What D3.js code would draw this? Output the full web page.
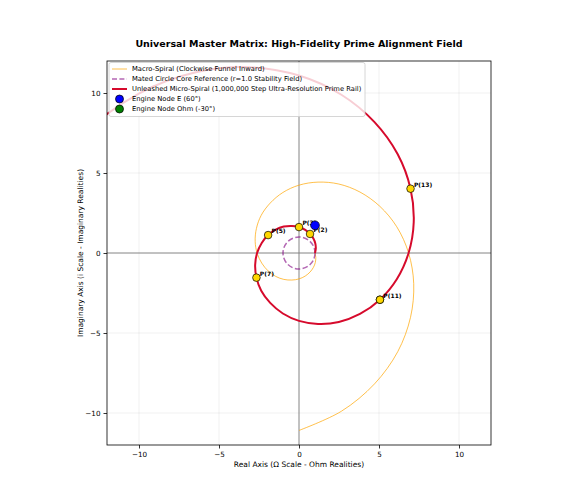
<!DOCTYPE html>
<html>
<head>
<meta charset="utf-8">
<script src="https://cdn.jsdelivr.net/npm/d3@7"></script>
<style>
  body { margin: 0; background: #fff; }
  text { font-family: 'DejaVu Sans', sans-serif; }
</style>
</head>
<body>
<svg id="chart" width="584" height="500"></svg>
<script>
// Macro-spiral (orange), points every 15 degrees
const macroX = [0, 2.65, 4.72, 6.17, 6.97, 7.17, 6.85, 6.11, 5.05, 3.81, 2.49, 1.19, 0, -1.01, -1.80, -2.36,
  -2.66, -2.74, -2.62, -2.33, -1.93, -1.46, -0.95, -0.45, 0, 0.39, 0.69, 0.90, 1.02, 1.05, 1.0]
const macroY = [-11.09, -9.89, -8.18, -6.17, -4.02, -1.92, 0, 1.64, 2.92, 3.81, 4.31, 4.43, 4.24, 3.78, 3.12, 2.36,
  1.54, 0.73, 0, -0.63, -1.12, -1.46, -1.65, -1.69, -1.62, -1.44, -1.19, -0.90, -0.59, -0.28, 0]

// Micro-spiral (red), points every 15 degrees
const microX = [1.0, 1.05, 1.02, 0.90, 0.69, 0.39, 0, -0.45, -0.95, -1.46, -1.93, -2.33, -2.62, -2.74, -2.66, -2.36,
  -1.80, -1.01, 0, 1.19, 2.49, 3.81, 5.06, 6.11, 6.85, 7.17, 6.97, 6.17, 4.72, 2.65, 0, -3.11, -6.51, -9.98, -13.23, -16.0]
const microY = [0, 0.28, 0.59, 0.90, 1.19, 1.44, 1.62, 1.69, 1.65, 1.46, 1.12, 0.63, 0, -0.73, -1.54, -2.36,
  -3.12, -3.78, -4.24, -4.43, -4.31, -3.81, -2.92, -1.64, 0, 1.92, 4.02, 6.17, 8.18, 9.89, 11.09, 11.61, 11.28, 9.98, 7.64, 4.29]

// Stability circle
const coreRadius = 1.0

// Prime markers on the micro-spiral
const primes = [2, 3, 5, 7, 11, 13]
const primeX = [0.69, 0, -1.93, -2.66, 5.06, 6.97]
const primeY = [1.19, 1.62, 1.12, -1.54, -2.92, 4.02]

// Engine nodes
const nodeNames = ['Engine Node E (60°)', 'Engine Node Ohm (-30°)']
const nodeX = [1.0, 5.06]
const nodeY = [1.73, -2.92]
const nodeColors = ['#0000ff', '#008000']

const ticks = [-10, -5, 0, 5, 10]

const svg = d3.select('#chart')
const width = 584
const height = 500
const margin = { top: 61, right: 93, bottom: 55, left: 107 }
const innerWidth = width - margin.left - margin.right
const innerHeight = height - margin.top - margin.bottom

// ------------------
// Title
// ------------------
svg.append('text')
  .attr('x', margin.left + innerWidth / 2)
  .attr('y', 47)
  .attr('text-anchor', 'middle')
  .attr('font-weight', 'bold')
  .attr('font-size', 9.5)
  .text('Universal Master Matrix: High-Fidelity Prime Alignment Field')

const g = svg.append('g')
  .attr('transform', `translate(${margin.left},${margin.top})`)

// ------------------
// Scales
// ------------------
const x = d3.scaleLinear().domain([-12, 12]).range([0, innerWidth])
const y = d3.scaleLinear().domain([-12, 12]).range([innerHeight, 0])

g.append('clipPath')
  .attr('id', 'plot-clip')
  .append('rect')
  .attr('width', innerWidth)
  .attr('height', innerHeight)

// ------------------
// Grid + zero axes
// ------------------
g.append('g')
  .selectAll('line')
  .data(ticks)
  .enter()
  .append('line')
  .attr('x1', d => x(d))
  .attr('x2', d => x(d))
  .attr('y1', 0)
  .attr('y2', innerHeight)
  .attr('stroke', '#b0b0b0')
  .attr('stroke-opacity', 0.3)
  .attr('stroke-width', 0.6)

g.append('g')
  .selectAll('line')
  .data(ticks)
  .enter()
  .append('line')
  .attr('x1', 0)
  .attr('x2', innerWidth)
  .attr('y1', d => y(d))
  .attr('y2', d => y(d))
  .attr('stroke', '#b0b0b0')
  .attr('stroke-opacity', 0.3)
  .attr('stroke-width', 0.6)

g.append('line')
  .attr('x1', 0).attr('x2', innerWidth)
  .attr('y1', y(0)).attr('y2', y(0))
  .attr('stroke', '#808080')
  .attr('stroke-width', 0.9)

g.append('line')
  .attr('x1', x(0)).attr('x2', x(0))
  .attr('y1', 0).attr('y2', innerHeight)
  .attr('stroke', '#808080')
  .attr('stroke-width', 0.9)

// ------------------
// Curves
// ------------------
const plot = g.append('g').attr('clip-path', 'url(#plot-clip)')

const line = d3.line()
  .x(d => x(d[0]))
  .y(d => y(d[1]))
  .curve(d3.curveCatmullRom.alpha(0.5))

plot.append('path')
  .datum(d3.zip(macroX, macroY))
  .attr('fill', 'none')
  .attr('stroke', '#ffa500')
  .attr('stroke-opacity', 0.7)
  .attr('stroke-width', 1)
  .attr('d', line)

plot.append('circle')
  .attr('cx', x(0))
  .attr('cy', y(0))
  .attr('r', x(coreRadius) - x(0))
  .attr('fill', 'none')
  .attr('stroke', '#800080')
  .attr('stroke-opacity', 0.6)
  .attr('stroke-width', 1.5)
  .attr('stroke-dasharray', '5.5,2.4')

plot.append('path')
  .datum(d3.zip(microX, microY))
  .attr('fill', 'none')
  .attr('stroke', '#d60a2c')
  .attr('stroke-width', 2)
  .attr('d', line)

// Hidden node sits under P(11), so draw it first
g.append('circle')
  .attr('cx', x(nodeX[1]))
  .attr('cy', y(nodeY[1]))
  .attr('r', 3.8)
  .attr('fill', nodeColors[1])
  .attr('stroke', '#000')
  .attr('stroke-width', 0.7)

// ------------------
// Prime markers
// ------------------
const primeData = primes.map((p, i) => ({ p, x: primeX[i], y: primeY[i] }))

g.selectAll('.prime-label')
  .data(primeData)
  .enter()
  .append('text')
  .attr('class', 'prime-label')
  .attr('x', d => x(d.x) + 3.4)
  .attr('y', d => y(d.y) - 2)
  .attr('font-size', 6)
  .attr('font-weight', 'bold')
  .text(d => `P(${d.p})`)

g.selectAll('.prime-dot')
  .data(primeData)
  .enter()
  .append('circle')
  .attr('class', 'prime-dot')
  .attr('cx', d => x(d.x))
  .attr('cy', d => y(d.y))
  .attr('r', 3.8)
  .attr('fill', '#ffd700')
  .attr('stroke', '#000')
  .attr('stroke-width', 0.7)

g.append('circle')
  .attr('cx', x(nodeX[0]))
  .attr('cy', y(nodeY[0]))
  .attr('r', 4.4)
  .attr('fill', nodeColors[0])
  .attr('stroke', '#000')
  .attr('stroke-width', 0.7)

// ------------------
// Frame + axes
// ------------------
g.append('rect')
  .attr('width', innerWidth)
  .attr('height', innerHeight)
  .attr('fill', 'none')
  .attr('stroke', '#000')
  .attr('stroke-width', 0.8)

const fmt = d => (d < 0 ? '\u2212' + Math.abs(d) : String(d))

const xAxis = g.append('g')
  .attr('transform', `translate(0,${innerHeight})`)
  .call(d3.axisBottom(x).tickValues(ticks).tickFormat(fmt).tickSize(3.5).tickPadding(3))
const yAxis = g.append('g')
  .call(d3.axisLeft(y).tickValues(ticks).tickFormat(fmt).tickSize(3.5).tickPadding(3))

for (const ax of [xAxis, yAxis]) {
  ax.select('.domain').remove()
  ax.selectAll('line').attr('stroke', '#000').attr('stroke-width', 0.8)
  ax.selectAll('text')
    .attr('font-family', "'DejaVu Sans', sans-serif")
    .attr('font-size', 7.2)
    .attr('fill', '#000')
}

g.append('text')
  .attr('x', innerWidth / 2)
  .attr('y', innerHeight + 22)
  .attr('text-anchor', 'middle')
  .attr('font-size', 7.5)
  .text('Real Axis (Ω Scale - Ohm Realities)')

g.append('text')
  .attr('x', -innerHeight / 2)
  .attr('y', -24)
  .attr('transform', 'rotate(-90)')
  .attr('text-anchor', 'middle')
  .attr('font-size', 7.5)
  .text('Imaginary Axis (i Scale - Imaginary Realities)')

// ------------------
// Legend
// ------------------
const legend = g.append('g').attr('transform', 'translate(2,1.5)')

legend.append('rect')
  .attr('width', 256)
  .attr('height', 54)
  .attr('rx', 2)
  .attr('fill', '#fff')
  .attr('fill-opacity', 0.8)
  .attr('stroke', '#cccccc')
  .attr('stroke-width', 0.8)

const items = [
  { label: 'Macro-Spiral (Clockwise Funnel Inward)', type: 'line', color: '#ffa500', opacity: 0.7, w: 1, dash: null },
  { label: 'Mated Circle Core Reference (r=1.0 Stability Field)', type: 'line', color: '#800080', opacity: 0.6, w: 1.5, dash: '5,2.4' },
  { label: 'Unleashed Micro-Spiral (1,000,000 Step Ultra-Resolution Prime Rail)', type: 'line', color: '#d60a2c', opacity: 1, w: 2, dash: null },
  { label: nodeNames[0], type: 'dot', color: nodeColors[0] },
  { label: nodeNames[1], type: 'dot', color: nodeColors[1] }
]

items.forEach((d, i) => {
  const row = legend.append('g').attr('transform', `translate(0,${6.5 + i * 10})`)
  if (d.type === 'line') {
    row.append('line')
      .attr('x1', 3).attr('x2', 18)
      .attr('stroke', d.color)
      .attr('stroke-opacity', d.opacity)
      .attr('stroke-width', d.w)
      .attr('stroke-dasharray', d.dash)
  } else {
    row.append('circle')
      .attr('cx', 10.5)
      .attr('r', 4)
      .attr('fill', d.color)
      .attr('stroke', '#000')
      .attr('stroke-width', 0.7)
  }
  row.append('text')
    .attr('x', 23)
    .attr('y', 2.4)
    .attr('font-size', 6.75)
    .text(d.label)
})
</script>
</body>
</html>
